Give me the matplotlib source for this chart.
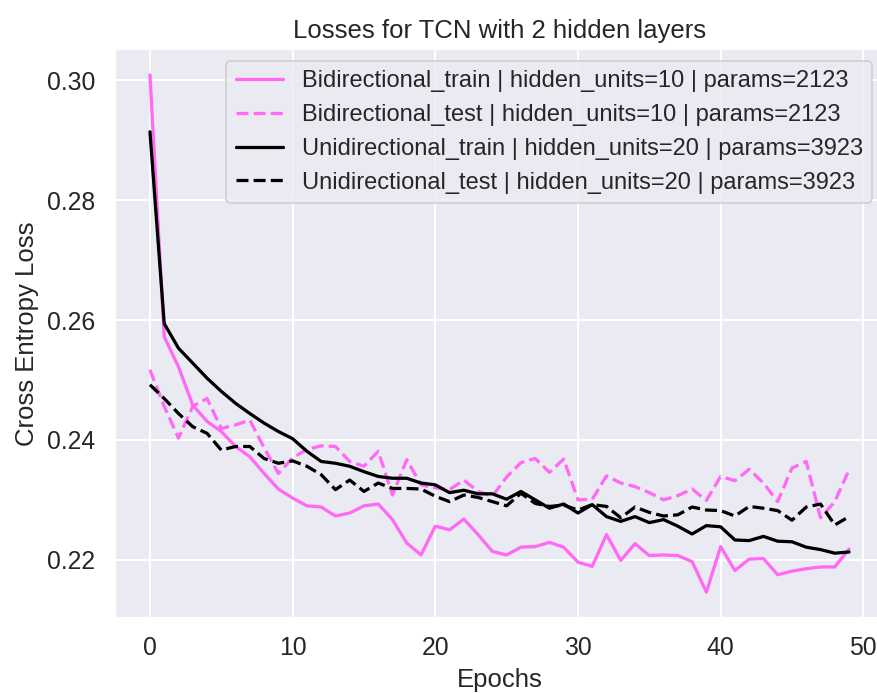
import numpy as np
import matplotlib
matplotlib.use("Agg")
import matplotlib.pyplot as plt
import seaborn as sns

# Loss values (50 epochs)
bi_train = [0.3009, 0.2572, 0.2522, 0.2458, 0.2431, 0.2414, 0.2389, 0.2372, 0.2344, 0.2318,
            0.2303, 0.2290, 0.2288, 0.2273, 0.2278, 0.2290, 0.2293, 0.2267, 0.2228, 0.2208,
            0.2256, 0.2250, 0.2268, 0.2242, 0.2214, 0.2208, 0.2221, 0.2222, 0.2229, 0.2221,
            0.2196, 0.2189, 0.2242, 0.2199, 0.2227, 0.2207, 0.2208, 0.2207, 0.2197, 0.2146,
            0.2222, 0.2182, 0.2201, 0.2202, 0.2175, 0.2181, 0.2185, 0.2188, 0.2188, 0.2218]
bi_test = [0.2517, 0.2456, 0.2403, 0.2456, 0.2469, 0.2419, 0.2425, 0.2433, 0.2387, 0.2344,
           0.2370, 0.2384, 0.2390, 0.2389, 0.2364, 0.2356, 0.2381, 0.2308, 0.2367, 0.2325,
           0.2320, 0.2317, 0.2333, 0.2314, 0.2306, 0.2338, 0.2362, 0.2369, 0.2346, 0.2368,
           0.2300, 0.2301, 0.2340, 0.2328, 0.2322, 0.2312, 0.2300, 0.2307, 0.2318, 0.2299,
           0.2339, 0.2332, 0.2351, 0.2328, 0.2297, 0.2353, 0.2364, 0.2270, 0.2297, 0.2350]
uni_train = [0.2914, 0.2594, 0.2553, 0.2528, 0.2503, 0.2481, 0.2461, 0.2444, 0.2428, 0.2414,
             0.2402, 0.2381, 0.2364, 0.2361, 0.2356, 0.2347, 0.2339, 0.2336, 0.2336, 0.2328,
             0.2325, 0.2312, 0.2316, 0.2310, 0.2310, 0.2301, 0.2314, 0.2300, 0.2286, 0.2293,
             0.2278, 0.2292, 0.2272, 0.2264, 0.2272, 0.2262, 0.2267, 0.2256, 0.2243, 0.2257,
             0.2255, 0.2233, 0.2232, 0.2239, 0.2231, 0.2230, 0.2221, 0.2217, 0.2211, 0.2213]
uni_test = [0.2492, 0.2469, 0.2444, 0.2422, 0.2411, 0.2383, 0.2389, 0.2389, 0.2369, 0.2361,
            0.2365, 0.2356, 0.2342, 0.2317, 0.2333, 0.2314, 0.2328, 0.2319, 0.2319, 0.2318,
            0.2306, 0.2297, 0.2308, 0.2304, 0.2297, 0.2290, 0.2311, 0.2294, 0.2289, 0.2291,
            0.2283, 0.2292, 0.2289, 0.2270, 0.2288, 0.2279, 0.2273, 0.2275, 0.2288, 0.2283,
            0.2282, 0.2273, 0.2289, 0.2286, 0.2282, 0.2266, 0.2288, 0.2293, 0.2258, 0.2272]
epochs = np.arange(len(bi_train))

labels = ["Bidirectional_train | hidden_units=10 | params=2123",
          "Bidirectional_test | hidden_units=10 | params=2123",
          "Unidirectional_train | hidden_units=20 | params=3923",
          "Unidirectional_test | hidden_units=20 | params=3923"]

sns.set_theme(style="darkgrid")
plt.rcParams['font.family'] = ['Liberation Sans', 'DejaVu Sans']
plt.rcParams['xtick.labelsize'] = 13
plt.rcParams['ytick.labelsize'] = 13
plt.rcParams['ytick.major.pad'] = 4.5
plt.rcParams['lines.linewidth'] = 1.7

pink = '#ff69f5'
fig = plt.figure(figsize=(877 / 137, 693 / 137), dpi=137)
# reference is cropped on the right, so the axes run past the figure edge
ax = fig.add_axes([115 / 877, 75 / 693, 769 / 877, 569 / 693])
ax.plot(epochs, bi_train, color=pink, linestyle='-', label=labels[0])
ax.plot(epochs, bi_test, color=pink, linestyle='--', label=labels[1])
ax.plot(epochs, uni_train, color='black', linestyle='-', label=labels[2])
ax.plot(epochs, uni_test, color='black', linestyle='--', label=labels[3])
ax.set_yticks([0.22, 0.24, 0.26, 0.28, 0.30])
ax.set_title("Losses for TCN with 2 hidden layers", fontsize=13.5)
ax.set_xlabel("Epochs", fontsize=13.5)
ax.set_ylabel("Cross Entropy Loss", fontsize=13.5)
ax.legend(loc='upper right', fontsize=12.4)
fig.savefig("out.png", dpi=137)
